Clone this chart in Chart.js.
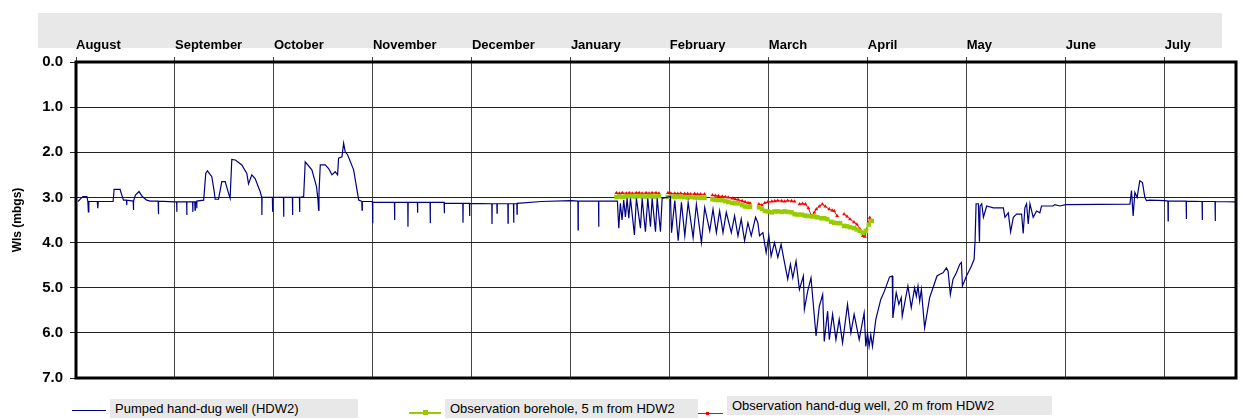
<!DOCTYPE html>
<html>
<head>
<meta charset="utf-8">
<script src="https://cdn.jsdelivr.net/npm/chart.js@4/dist/chart.umd.min.js"></script>
<style>
  body { margin: 0; background: #fff; }
  #wrap { position: relative; width: 1243px; height: 419px; font-family: "Liberation Sans", Arial, sans-serif; }
  #legend .swatch { position: absolute; top: 0; height: 19px; }
  #legend .swatch .line { position: absolute; left: 0; right: 0; }
  #legend .swatch .dot { position: absolute; }
  #legend .box { position: absolute; top: 0; height: 19px; line-height: 19px; background: #e8e8e8; font-size: 13px; color: #000; padding-left: 5px; box-sizing: border-box; white-space: nowrap; }
</style>
</head>
<body>
<div id="wrap">
  <canvas id="chart" width="1243" height="419"></canvas>
  <div id="legend"></div>
</div>
<script>
// Month labels across the top (each month gets equal width)
const monthLabels = ['August', 'September', 'October', 'November', 'December', 'January',
                     'February', 'March', 'April', 'May', 'June', 'July'];

// x = months since 1 August, y = water level below ground (m)
const pumpedWell = [
  [0.02,3.09],[0.05,3.02],[0.07,2.98],[0.11,2.98],[0.12,3.09],[0.125,3.32],[0.13,3.09],[0.215,3.09],[0.22,3.24],[0.225,3.09],
  [0.375,3.09],[0.385,2.82],[0.445,2.82],[0.46,2.93],[0.48,3.06],[0.51,3.06],[0.512,3.17],[0.515,3.06],[0.578,3.08],[0.58,3.28],
  [0.583,3.08],[0.6,2.95],[0.637,2.87],[0.67,2.98],[0.714,3.06],[0.75,3.08],[0.83,3.08],[0.832,3.37],[0.835,3.08],[1.0,3.1],
  [1.017,3.1],[1.018,3.32],[1.02,3.1],[1.118,3.1],[1.119,3.39],[1.121,3.1],[1.178,3.1],[1.18,3.32],[1.182,3.1],[1.2,3.1],
  [1.203,3.28],[1.206,3.1],[1.218,3.1],[1.22,3.24],[1.222,3.08],[1.29,3.06],[1.311,2.47],[1.328,2.41],[1.372,2.54],[1.395,2.85],
  [1.406,3.04],[1.44,3.04],[1.473,2.65],[1.507,2.65],[1.54,2.9],[1.557,3.02],[1.574,2.16],[1.61,2.17],[1.675,2.28],[1.726,2.47],
  [1.743,2.70],[1.776,2.50],[1.81,2.58],[1.86,2.87],[1.877,3.0],[1.878,3.39],[1.88,3.0],[1.984,3.0],[1.986,3.32],[1.988,3.0],
  [2.096,3.0],[2.098,3.43],[2.1,3.0],[2.186,3.0],[2.188,3.39],[2.19,3.0],[2.257,3.0],[2.259,3.32],[2.262,3.0],[2.3,2.98],
  [2.316,2.21],[2.383,2.39],[2.43,2.76],[2.445,3.06],[2.451,3.28],[2.455,2.9],[2.468,2.28],[2.518,2.28],[2.552,2.36],[2.586,2.50],
  [2.619,2.43],[2.643,2.50],[2.653,2.13],[2.687,2.10],[2.704,1.80],[2.72,1.99],[2.745,2.06],[2.805,2.39],[2.84,2.85],[2.856,3.06],
  [2.888,3.09],[2.89,3.28],[2.893,3.09],[2.995,3.09],[2.997,3.57],[3.0,3.11],
  [3.217,3.11],[3.219,3.50],[3.221,3.11],[3.352,3.11],[3.354,3.65],[3.356,3.11],[3.449,3.11],[3.451,3.34],[3.453,3.11],
  [3.577,3.11],[3.579,3.57],[3.581,3.11],[3.719,3.11],[3.721,3.35],[3.723,3.13],[3.908,3.13],[3.910,3.56],[3.912,3.13],
  [3.975,3.13],[3.977,3.41],[3.979,3.13],[4.201,3.14],[4.203,3.59],[4.205,3.14],[4.252,3.14],[4.254,3.35],[4.256,3.14],
  [4.363,3.14],[4.365,3.57],[4.367,3.14],[4.420,3.14],[4.422,3.56],[4.424,3.14],[4.454,3.14],[4.456,3.37],[4.458,3.13],
  [4.7,3.09],[5.0,3.07],[5.071,3.08],[5.073,3.72],[5.075,3.08],[5.279,3.08],[5.281,3.65],[5.283,3.08],[5.47,3.08],
  [5.484,3.68],[5.50,3.13],[5.517,3.50],[5.534,3.06],[5.551,3.43],[5.568,3.02],[5.585,3.46],[5.602,3.02],[5.642,3.83],[5.662,3.02],
  [5.703,3.68],[5.72,3.02],[5.753,3.76],[5.777,3.02],[5.804,3.65],[5.821,3.02],[5.855,3.76],[5.872,3.02],[5.905,3.76],[5.922,3.02],
  [6.006,2.98],[6.017,3.78],[6.05,3.07],[6.084,3.96],[6.117,3.11],[6.151,3.85],[6.185,3.11],[6.235,3.89],[6.268,3.15],[6.319,4.0],
  [6.352,3.22],[6.403,3.74],[6.436,3.26],[6.47,3.78],[6.503,3.30],[6.537,3.78],[6.57,3.33],[6.621,3.78],[6.654,3.41],[6.688,3.85],
  [6.721,3.48],[6.755,3.96],[6.789,3.56],[6.822,3.85],[6.866,3.44],[6.889,3.56],[6.906,3.85],[6.94,3.78],[6.973,4.22],[7.0,3.85],
  [7.023,4.30],[7.057,4.0],[7.091,4.33],[7.124,4.04],[7.158,4.44],[7.191,4.81],[7.218,4.48],[7.242,4.78],[7.275,4.41],[7.309,5.04],
  [7.349,4.74],[7.359,5.48],[7.393,5.07],[7.426,4.78],[7.477,6.07],[7.51,5.41],[7.544,5.15],[7.56,6.19],[7.594,5.52],[7.611,6.15],
  [7.644,5.59],[7.678,6.15],[7.711,5.70],[7.745,6.22],[7.795,5.37],[7.829,6.0],[7.862,5.59],[7.913,6.15],[7.963,5.56],[7.98,6.30],
  [7.997,6.0],[8.013,6.30],[8.03,6.04],[8.047,6.30],[8.081,5.70],[8.131,5.26],[8.169,5.07],[8.22,4.76],[8.247,4.74],[8.253,5.67],
  [8.287,5.11],[8.314,5.37],[8.338,5.22],[8.348,5.63],[8.405,4.96],[8.422,5.19],[8.439,5.44],[8.473,5.0],[8.49,5.19],[8.507,4.96],
  [8.524,5.30],[8.541,5.04],[8.574,5.89],[8.625,5.22],[8.676,4.89],[8.699,4.74],[8.726,4.70],[8.76,4.67],[8.794,4.56],[8.811,4.63],
  [8.834,5.15],[8.861,4.81],[8.895,4.67],[8.929,4.48],[8.946,4.44],[8.956,4.96],[8.997,4.74],[9.047,4.52],[9.074,4.37],[9.084,3.94],
  [9.094,3.14],[9.117,3.14],[9.128,3.98],[9.134,3.19],[9.151,3.14],[9.168,3.44],[9.201,3.19],[9.268,3.23],[9.369,3.23],[9.386,3.44],
  [9.419,3.34],[9.443,3.76],[9.47,3.44],[9.503,3.37],[9.554,3.37],[9.57,3.80],[9.587,3.23],[9.604,3.14],[9.621,3.59],[9.638,3.14],
  [9.671,3.44],[9.705,3.30],[9.738,3.34],[9.755,3.19],[9.872,3.19],[9.889,3.16],[9.94,3.19],[10.0,3.16],[10.648,3.15],[10.664,2.85],
  [10.681,3.41],[10.698,2.89],[10.721,3.0],[10.748,2.63],[10.775,2.67],[10.799,3.0],[10.815,3.07],[10.849,3.06],[11.0,3.07],
  [11.032,3.08],[11.034,3.52],[11.036,3.08],[11.216,3.08],[11.218,3.48],[11.220,3.08],[11.377,3.09],[11.379,3.50],[11.381,3.09],
  [11.508,3.09],[11.51,3.52],[11.512,3.09],[11.715,3.10]
];

const obsBorehole = [
  [5.46,2.99],[5.49,2.98],[5.52,2.99],[5.55,2.98],[5.59,2.97],[5.62,2.97],[5.65,2.98],[5.69,2.97],[5.72,2.97],[5.75,2.98],
  [5.79,2.97],[5.82,2.97],[5.85,2.98],[5.89,2.97],[5.93,null],
  [5.98,2.99],[6.01,2.98],[6.05,2.99],[6.08,2.98],[6.11,2.99],[6.15,2.99],[6.18,3.0],[6.21,2.99],[6.25,3.0],[6.28,3.0],
  [6.31,3.01],[6.35,3.01],[6.39,null],
  [6.43,3.04],[6.46,3.05],[6.49,3.06],[6.53,3.06],[6.56,3.08],[6.59,3.10],[6.63,3.12],[6.66,3.13],[6.69,3.13],[6.73,3.17],
  [6.76,3.20],[6.79,3.21],[6.81,3.21],[6.85,null],
  [6.90,3.22],[6.93,3.25],[6.96,3.30],[6.99,3.31],[7.03,3.33],[7.06,3.31],[7.09,3.31],[7.13,3.32],[7.16,3.31],[7.19,3.32],
  [7.23,3.33],[7.26,3.37],[7.29,3.38],[7.33,3.38],[7.36,3.40],[7.39,3.41],[7.43,3.42],[7.46,3.42],[7.49,3.44],[7.53,3.46],
  [7.56,3.46],[7.59,3.48],[7.63,3.54],[7.66,3.56],[7.69,3.57],[7.72,3.57],[7.74,null],
  [7.76,3.63],[7.79,3.64],[7.82,3.66],[7.86,3.68],[7.89,3.71],[7.92,3.74],[7.95,3.78],[7.98,3.74],[8.01,3.60],[8.04,3.52]
];

const obsHandDug = [
  [5.46,2.90],[5.49,2.91],[5.52,2.90],[5.56,2.91],[5.59,2.90],[5.62,2.91],[5.66,2.90],[5.69,2.90],[5.72,2.91],[5.76,2.90],
  [5.79,2.91],[5.82,2.90],[5.86,2.90],[5.89,2.91],[5.93,null],
  [5.98,2.90],[6.01,2.91],[6.05,2.91],[6.08,2.92],[6.11,2.91],[6.15,2.92],[6.18,2.92],[6.21,2.93],[6.25,2.92],[6.28,2.93],
  [6.31,2.93],[6.35,2.93],[6.39,null],
  [6.43,2.95],[6.46,2.96],[6.49,2.97],[6.53,2.98],[6.56,2.99],[6.59,3.0],[6.63,3.02],[6.66,3.04],[6.69,3.05],[6.73,3.08],
  [6.76,3.10],[6.79,3.12],[6.81,3.13],[6.85,null],
  [6.90,3.15],[6.93,3.17],[6.96,3.12],[6.99,3.10],[7.03,3.09],[7.06,3.08],[7.09,3.07],[7.13,3.08],[7.16,3.09],[7.19,3.07],
  [7.23,3.08],[7.26,3.09],[7.28,null],
  [7.31,3.15],[7.34,3.14],[7.37,3.15],[7.40,3.24],[7.43,3.41],[7.46,3.33],[7.48,3.26],[7.51,3.20],[7.54,3.15],[7.57,3.20],
  [7.61,3.26],[7.64,3.29],[7.66,3.30],[7.69,3.41],[7.73,null],
  [7.76,3.37],[7.79,3.42],[7.82,3.48],[7.86,3.55],[7.89,3.60],[7.92,3.70],[7.95,3.85],[7.97,3.87],[7.99,3.70],[8.02,3.45]
];

const seriesLabels = ['Pumped hand-dug well (HDW2)', 'Observation borehole, 5 m from HDW2',
                      'Observation hand-dug well, 20 m from HDW2'];
const seriesColors = ['#000080', '#99cc00', '#ff0000'];

function toPoints(pairs) {
    return pairs.map(p => ({ x: p[0], y: p[1] }));
}

// grey strip behind the month names
const bandPlugin = {
    id: 'band',
    beforeDraw(chart) {
        const { ctx, chartArea } = chart;
        ctx.save();
        ctx.fillStyle = '#e8e8e8';
        ctx.fillRect(chartArea.left - 38, chartArea.top - 49, chartArea.right - chartArea.left + 24, 35);
        ctx.restore();
    }
};

// heavy black frame round the plot
const framePlugin = {
    id: 'frame',
    afterDraw(chart) {
        const { ctx, chartArea } = chart;
        ctx.save();
        ctx.strokeStyle = '#000';
        ctx.lineWidth = 3;
        ctx.strokeRect(chartArea.left, chartArea.top, chartArea.right - chartArea.left, chartArea.bottom - chartArea.top);
        ctx.restore();
    }
};

const fontFamily = '"Liberation Sans", Arial, sans-serif';

const chart = new Chart(document.getElementById('chart').getContext('2d'), {
    type: 'line',
    data: {
        datasets: [
            {
                label: seriesLabels[0],
                data: toPoints(pumpedWell),
                borderColor: seriesColors[0],
                borderWidth: 1.2,
                pointRadius: 0,
                tension: 0
            },
            {
                label: seriesLabels[1],
                data: toPoints(obsBorehole),
                borderColor: seriesColors[1],
                backgroundColor: seriesColors[1],
                borderWidth: 1.5,
                pointStyle: 'rect',
                pointRadius: 3.2,
                pointBorderWidth: 0,
                spanGaps: false
            },
            {
                label: seriesLabels[2],
                data: toPoints(obsHandDug),
                borderColor: seriesColors[2],
                backgroundColor: seriesColors[2],
                borderWidth: 1,
                pointStyle: 'triangle',
                pointRadius: 2.2,
                pointBorderWidth: 0,
                spanGaps: false
            }
        ]
    },
    options: {
        responsive: false,
        animation: false,
        devicePixelRatio: 1,
        layout: { padding: { left: 0, right: 7, top: 0, bottom: 41 } },
        plugins: {
            legend: { display: false },
            tooltip: { enabled: false }
        },
        scales: {
            x: {
                type: 'linear',
                position: 'top',
                min: 0,
                max: 11.72,
                afterBuildTicks: scale => {
                    scale.ticks = monthLabels.map((_, i) => ({ value: i }));
                },
                afterFit: scale => { scale.height = 62; },
                ticks: {
                    callback: value => monthLabels[value],
                    align: 'start',
                    autoSkip: false,
                    maxRotation: 0,
                    padding: 4,
                    color: '#000',
                    font: { family: fontFamily, size: 13, weight: 'bold' }
                },
                grid: { color: '#444', lineWidth: 1, tickLength: 5 },
                border: { display: false }
            },
            y: {
                reverse: true,
                min: 0,
                max: 7,
                afterFit: scale => { scale.width = 76; },
                ticks: {
                    stepSize: 1,
                    callback: value => value.toFixed(1),
                    padding: 7,
                    color: '#000',
                    font: { family: fontFamily, size: 15, weight: 'bold' }
                },
                title: {
                    display: true,
                    text: 'Wls (mbgs)',
                    color: '#000',
                    padding: { top: 10, bottom: 0 },
                    font: { family: fontFamily, size: 12, weight: 'bold' }
                },
                grid: { color: '#222', lineWidth: 1, tickLength: 6 },
                border: { display: false }
            }
        }
    },
    plugins: [bandPlugin, framePlugin]
});

// Legend built from the datasets, laid out like the original row of grey boxes
const legendSlots = [
    { swatchLeft: 72, swatchWidth: 34, boxLeft: 110, boxWidth: 248, top: 399, lineTop: 11 },
    { swatchLeft: 409, swatchWidth: 32, boxLeft: 445, boxWidth: 253, top: 399, lineTop: 13 },
    { swatchLeft: 698, swatchWidth: 25, boxLeft: 727, boxWidth: 325, top: 396, lineTop: 17 }
];

const legendEl = document.getElementById('legend');
chart.data.datasets.forEach((ds, i) => {
    const slot = legendSlots[i];
    const sw = document.createElement('div');
    sw.className = 'swatch';
    sw.style.left = slot.swatchLeft + 'px';
    sw.style.width = slot.swatchWidth + 'px';
    sw.style.top = slot.top + 'px';
    const line = document.createElement('div');
    line.className = 'line';
    line.style.top = slot.lineTop + 'px';
    line.style.borderTop = (i === 1 ? 2 : 1) + 'px solid ' + ds.borderColor;
    sw.appendChild(line);
    if (i > 0) {
        const dot = document.createElement('div');
        dot.className = 'dot';
        const s = i === 1 ? 5 : 3;
        dot.style.width = s + 'px';
        dot.style.height = s + 'px';
        dot.style.background = ds.borderColor;
        dot.style.left = (slot.swatchWidth / 2 - s / 2 - (i === 2 ? 3 : 0)) + 'px';
        dot.style.top = (slot.lineTop - s / 2 + 0.5) + 'px';
        sw.appendChild(dot);
    }
    legendEl.appendChild(sw);

    const box = document.createElement('div');
    box.className = 'box';
    box.style.left = slot.boxLeft + 'px';
    box.style.width = slot.boxWidth + 'px';
    box.style.top = slot.top + 'px';
    box.textContent = ds.label;
    legendEl.appendChild(box);
});
</script>
</body>
</html>
